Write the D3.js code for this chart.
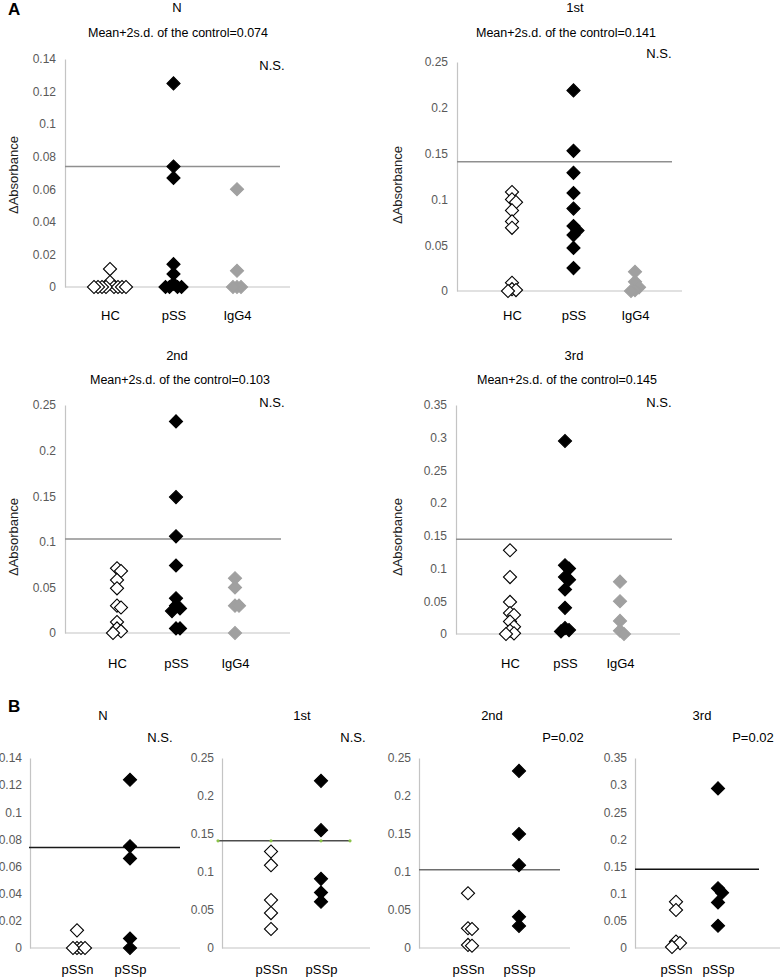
<!DOCTYPE html>
<html><head><meta charset="utf-8">
<script src="https://cdn.jsdelivr.net/npm/d3@7"></script>
<style>
html,body{margin:0;padding:0;background:#fff;}
svg{display:block;font-family:"Liberation Sans",Arial,Helvetica,sans-serif;}
</style></head>
<body><svg id="chart" width="780" height="978"></svg>
<script>
// ---------------- DATA ----------------
const groupsA = ["HC", "pSS", "IgG4"];
const groupsB = ["pSSn", "pSSp"];
const titles = ["N", "1st", "2nd", "3rd"];
const cutoffs = [0.074, 0.141, 0.103, 0.145];
const cutoffLabels = ["Mean+2s.d. of the control=0.074", "Mean+2s.d. of the control=0.141",
  "Mean+2s.d. of the control=0.103", "Mean+2s.d. of the control=0.145"];
const statsA = ["N.S.", "N.S.", "N.S.", "N.S."];
const statsB = ["N.S.", "N.S.", "P=0.02", "P=0.02"];
const yMax = [0.14, 0.25, 0.25, 0.35];
const ticks0 = [0, 0.02, 0.04, 0.06, 0.08, 0.1, 0.12, 0.14];
const ticks1 = [0, 0.05, 0.1, 0.15, 0.2, 0.25];
const ticks2 = [0, 0.05, 0.1, 0.15, 0.2, 0.25];
const ticks3 = [0, 0.05, 0.1, 0.15, 0.2, 0.25, 0.3, 0.35];
const yLabel = "ΔAbsorbance";

// Panel A values
const hcN   = [0.011, 0.003, 0, 0, 0, 0, 0, 0, 0, 0];
const pssN  = [0.125, 0.074, 0.067, 0.014, 0.008, 0.002, 0, 0, 0, 0];
const iggN  = [0.060, 0.010, 0, 0, 0];
const hc1   = [0.108, 0.100, 0.097, 0.088, 0.076, 0.069, 0.009, 0.002, 0.001, 0];
const pss1  = [0.219, 0.153, 0.129, 0.107, 0.090, 0.071, 0.066, 0.061, 0.047, 0.025];
const igg1  = [0.021, 0.010, 0.004, 0.001, 0];
const hc2   = [0.071, 0.068, 0.058, 0.049, 0.030, 0.028, 0.012, 0.005, 0.002, 0];
const pss2  = [0.232, 0.149, 0.106, 0.074, 0.038, 0.030, 0.027, 0.024, 0.005, 0.005];
const igg2  = [0.060, 0.050, 0.030, 0.030, 0];
const hc3   = [0.128, 0.087, 0.049, 0.032, 0.029, 0.019, 0.011, 0.005, 0.001, 0];
const pss3  = [0.295, 0.105, 0.100, 0.087, 0.083, 0.068, 0.040, 0.009, 0.006, 0.004];
const igg3  = [0.080, 0.050, 0.020, 0.005, 0];

// Panel B values
const pssnN = [0.013, 0, 0, 0, 0];
const psspN = [0.124, 0.075, 0.066, 0.007, 0];
const pssn1 = [0.127, 0.109, 0.063, 0.046, 0.025];
const pssp1 = [0.220, 0.155, 0.091, 0.073, 0.061];
const pssn2 = [0.072, 0.026, 0.025, 0.004, 0.003];
const pssp2 = [0.233, 0.150, 0.109, 0.041, 0.029];
const pssn3 = [0.085, 0.070, 0.012, 0.009, 0.002];
const pssp3 = [0.294, 0.110, 0.102, 0.084, 0.041];

// ---------------- DRAW ----------------
const svg = d3.select("#chart");
svg.append("rect").attr("width", 780).attr("height", 978).attr("fill", "#fff");

const groupStyle = {
  HC:   {fill: "#fff", stroke: "#000"},
  pSS:  {fill: "#000", stroke: "#000"},
  IgG4: {fill: "#a0a0a0", stroke: "#a0a0a0"},
  pSSn: {fill: "#fff", stroke: "#000"},
  pSSp: {fill: "#000", stroke: "#000"}
};
const diamond = d3.symbol(d3.symbolSquare, 86);
const fmt = d3.format("~g");

function dodge(vals, y) {
  const placed = [];
  const seq = [0, 1, -1, 2, -2, 3, -3, 4, -4, 5, -5];
  const step = 4;
  return vals.map(v => {
    const py = y(v);
    let off = 0;
    for (const k of seq) {
      const dx = k * step;
      if (!placed.some(p => Math.abs(p.py - py) < 6 && Math.abs(p.dx - dx) < 4)) { off = dx; break; }
    }
    placed.push({py, dx: off});
    return off;
  });
}

function panel(c) {
  const g = svg.append("g");
  const y = d3.scaleLinear().domain([0, c.yMax]).range([c.y0, c.yTop]);
  const x = d3.scalePoint().domain(c.groups).range(c.catRange);

  // y axis
  const ya = g.append("g").attr("transform", `translate(${c.axisX},0)`)
    .call(d3.axisLeft(y).tickValues(c.ticks).tickFormat(fmt).tickSize(0).tickSizeOuter(0).tickPadding(c.tickPad));
  ya.select(".domain").attr("stroke", "#c4c4c4").attr("stroke-width", 1.2);
  ya.selectAll("text").attr("fill", "#595959").style("font-size", "12px")
    .style("font-family", '"Liberation Sans",Arial,sans-serif');

  // x baseline
  g.append("line").attr("x1", c.axisX).attr("x2", c.right)
    .attr("y1", y(0)).attr("y2", y(0)).attr("stroke", "#c4c4c4").attr("stroke-width", 1.2);

  // category labels
  const xa = g.append("g").attr("transform", `translate(0,${c.labelY - 0.35 * 13})`)
    .call(d3.axisBottom(x).tickSize(0).tickPadding(0));
  xa.select(".domain").remove();
  xa.selectAll("text").attr("fill", "#000").style("font-size", "13px")
    .style("font-family", '"Liberation Sans",Arial,sans-serif');

  // cutoff line
  g.append("line").attr("x1", c.lineX1).attr("x2", c.lineX2)
    .attr("y1", y(c.cutoff)).attr("y2", y(c.cutoff))
    .attr("stroke", c.lineColor).attr("stroke-width", 1.5);
  if (c.lineDots) {
    const pts = [c.lineX1, x(c.groups[0]), x(c.groups[1]), c.lineX2];
    g.selectAll(".ld").data(pts).enter().append("circle")
      .attr("cx", d => d).attr("cy", y(c.cutoff)).attr("r", 1.6).attr("fill", "#8bc34a");
  }

  // points
  c.groups.forEach((grp, i) => {
    const vals = c.values[i];
    const offs = dodge(vals, y);
    const st = groupStyle[grp];
    g.selectAll(null).data(vals).enter().append("path")
      .attr("d", diamond)
      .attr("transform", (d, j) => `translate(${x(grp) + offs[j]},${y(d)}) rotate(45)`)
      .attr("fill", st.fill).attr("stroke", st.stroke).attr("stroke-width", 1.1);
  });

  // texts
  g.append("text").attr("x", c.titleX).attr("y", c.titleY).attr("text-anchor", "middle")
    .style("font-size", "13px").text(c.title);
  if (c.subtitle) g.append("text").attr("x", c.subX).attr("y", c.subY).attr("text-anchor", "middle")
    .style("font-size", "12.5px").text(c.subtitle);
  g.append("text").attr("x", c.statX).attr("y", c.statY).attr("text-anchor", "middle")
    .style("font-size", "13px").text(c.stat);
  if (c.yLabX) g.append("text")
    .attr("transform", `translate(${c.yLabX},${c.yLabY}) rotate(-90)`)
    .attr("text-anchor", "middle").attr("dominant-baseline", "central")
    .style("font-size", "13px").attr("fill", "#222").text(yLabel);
}

const tickSets = [ticks0, ticks1, ticks2, ticks3];
const aValues = [[hcN, pssN, iggN], [hc1, pss1, igg1], [hc2, pss2, igg2], [hc3, pss3, igg3]];
const bValues = [[pssnN, psspN], [pssn1, pssp1], [pssn2, pssp2], [pssn3, pssp3]];

// Panel A layout
const aLayout = [
  {axisX: 65,  right: 290, y0: 287, yTop: 59,  catRange: [110, 237], lineX2: 280, titleX: 177, subX: 178, titleY: 12,  subY: 37,  statX: 272, statY: 70,  yLabX: 13,  yLabY: 175, labelY: 315},
  {axisX: 457, right: 682, y0: 291, yTop: 62,  catRange: [512, 635], lineX2: 672, titleX: 575, subX: 566, titleY: 12,  subY: 37,  statX: 659, statY: 58,  yLabX: 397, yLabY: 185, labelY: 315},
  {axisX: 65,  right: 290, y0: 633, yTop: 405, catRange: [117, 235], lineX2: 281, titleX: 177, subX: 180, titleY: 360, subY: 384, statX: 272, statY: 407, yLabX: 13,  yLabY: 537, labelY: 663},
  {axisX: 456, right: 680, y0: 634, yTop: 405, catRange: [510, 620], lineX2: 672, titleX: 574, subX: 567, titleY: 360, subY: 384, statX: 659, statY: 407, yLabX: 397, yLabY: 537, labelY: 663}
];
aLayout.forEach((L, i) => panel(Object.assign({}, L, {
  groups: groupsA, values: aValues[i], yMax: yMax[i], ticks: tickSets[i], tickPad: 9,
  cutoff: cutoffs[i], lineX1: L.axisX, lineColor: "#8f8f8f",
  title: titles[i], subtitle: cutoffLabels[i], stat: statsA[i]
})));

// Panel B layout
const bLayout = [
  {axisX: 30,  right: 180, catRange: [77, 130],  lineX1: 29,  lineX2: 180, lineColor: "#1a1a1a", titleX: 103, statX: 160},
  {axisX: 222, right: 370, catRange: [271, 321], lineX1: 218, lineX2: 350, lineColor: "#4d4d4d", titleX: 302, statX: 353, lineDots: true},
  {axisX: 419, right: 570, catRange: [468, 519], lineX1: 419, lineX2: 560, lineColor: "#6e6e6e", titleX: 492, statX: 563},
  {axisX: 635, right: 780, catRange: [676, 718], lineX1: 635, lineX2: 759, lineColor: "#111",    titleX: 702, statX: 753}
];
bLayout.forEach((L, i) => panel(Object.assign({}, L, {
  groups: groupsB, values: bValues[i], yMax: yMax[i], ticks: tickSets[i], tickPad: 8,
  y0: 948, yTop: 758, cutoff: cutoffs[i], labelY: 969,
  title: titles[i], titleY: 720, stat: statsB[i], statY: 742
})));

// Panel letters
svg.append("text").attr("x", 8).attr("y", 15).style("font-size", "17px").style("font-weight", "bold").text("A");
svg.append("text").attr("x", 8).attr("y", 712).style("font-size", "17px").style("font-weight", "bold").text("B");
</script>
</body></html>
